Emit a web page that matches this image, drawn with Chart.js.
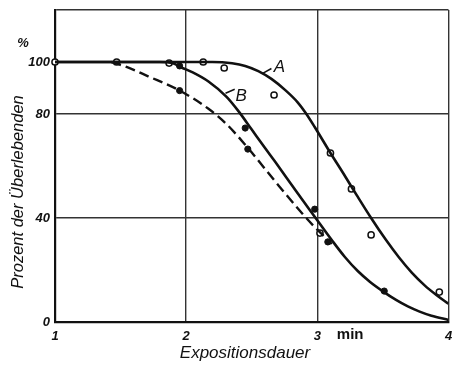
<!DOCTYPE html>
<html>
<head>
<meta charset="utf-8">
<script src="https://cdn.jsdelivr.net/npm/chart.js@4"></script>
<style>
  html, body { margin: 0; padding: 0; background: #fff; }
  #wrap { width: 454px; height: 365px; }
</style>
</head>
<body>
<div id="wrap"><canvas id="survivalChart"></canvas></div>
<script>
// curve A (solid)
const curveAX = [1.0, 2.2, 2.35, 2.45, 2.55, 2.65, 2.76, 2.85, 2.91, 2.98, 3.1, 3.2, 3.3, 3.41, 3.52, 3.62, 3.72, 3.82, 3.91, 4.0];
const curveAY = [100, 100, 99.5, 98.5, 96.5, 93.5, 89, 84.5, 80.5, 75, 65, 57, 48.8, 40, 31.8, 25, 19, 14, 10.3, 7];
// curve B (solid)
const curveBX = [1.0, 1.8, 1.9, 1.96, 2.05, 2.17, 2.31, 2.4, 2.5, 2.6, 2.68, 2.85, 2.98, 3.11, 3.21, 3.31, 3.4, 3.5, 3.6, 3.69, 3.78, 3.87, 4.0];
const curveBY = [100, 100, 99.5, 98, 96, 92.5, 86.5, 81, 74, 67, 61.5, 49.5, 40.5, 31.5, 25, 19.5, 15.5, 11.8, 8.5, 6, 4, 2.4, 0.8];
// dashed curve
const dashX = [1.43, 1.55, 1.71, 1.95, 2.17, 2.31, 2.47, 2.68, 2.88, 2.98, 3.05, 3.11];
const dashY = [100, 98, 94.5, 89, 82, 76, 67, 54, 42, 36.5, 33, 30];

// measured points
const openX = [1.0, 1.47, 1.87, 2.13, 2.29, 2.67, 3.10, 3.26, 3.41, 3.93, 3.02];
const openY = [100, 100, 99.6, 100, 97.7, 87.3, 65, 51.2, 33.5, 11.5, 34.2];
const filledX = [1.95, 2.45, 2.47, 1.95, 2.98, 3.08, 3.51];
const filledY = [98.5, 74.6, 66.5, 89, 43.4, 30.8, 11.9];

const xTickLabels = ['1', '2', '3', '4'];
const yTickLabels = { 0: '0', 40: '40', 80: '80', 100: '100' };
const xTitle = 'Expositionsdauer';
const yTitle = 'Prozent der Überlebenden';

const toPoints = (xs, ys) => xs.map((x, i) => ({ x, y: ys[i] }));
const INK = '#111';
const tickFont = { family: 'Liberation Sans', size: 13, style: 'italic', weight: 'bold' };

const lineStyle = {
    showLine: true,
    borderColor: INK,
    borderWidth: 2.6,
    pointRadius: 0,
    cubicInterpolationMode: 'monotone',
    fill: false
};

// extra text: titles, "%", "min", curve labels A / B
const annotations = {
    id: 'annotations',
    afterDraw(chart) {
        const { ctx, chartArea, scales: { x, y } } = chart;
        ctx.save();
        ctx.fillStyle = INK;
        ctx.strokeStyle = INK;
        ctx.textAlign = 'center';
        ctx.textBaseline = 'middle';

        ctx.font = 'italic bold 13px "Liberation Sans"';
        ctx.fillText('%', chartArea.left - 32, y.getPixelForValue(107));
        ctx.font = 'bold 15px "Liberation Sans"';
        ctx.fillText('min', x.getPixelForValue(3.25), chartArea.bottom + 13);

        ctx.font = 'italic 17px "Liberation Sans"';
        ctx.fillText(xTitle, 245, 353);
        ctx.save();
        ctx.translate(18, 192);
        ctx.rotate(-Math.PI / 2);
        ctx.font = 'italic 16.5px "Liberation Sans"';
        ctx.fillText(yTitle, 0, 0);
        ctx.restore();

        ctx.font = 'italic 17px "Liberation Sans"';
        ctx.fillText('A', x.getPixelForValue(2.71), y.getPixelForValue(98));
        ctx.fillText('B', x.getPixelForValue(2.42), y.getPixelForValue(87));
        ctx.lineWidth = 1.5;
        ctx.beginPath();
        ctx.moveTo(x.getPixelForValue(2.58), y.getPixelForValue(95.5));
        ctx.lineTo(x.getPixelForValue(2.65), y.getPixelForValue(97.5));
        ctx.moveTo(x.getPixelForValue(2.30), y.getPixelForValue(88));
        ctx.lineTo(x.getPixelForValue(2.37), y.getPixelForValue(89.5));
        ctx.stroke();
        ctx.restore();
    }
};

const chart = new Chart(document.getElementById('survivalChart'), {
    type: 'scatter',
    data: {
        datasets: [
            { ...lineStyle, label: 'A', data: toPoints(curveAX, curveAY) },
            { ...lineStyle, label: 'B', data: toPoints(curveBX, curveBY) },
            { ...lineStyle, label: 'dashed', borderDash: [10, 5], borderWidth: 2.4, data: toPoints(dashX, dashY) },
            {
                label: 'open', data: toPoints(openX, openY), clip: false,
                pointRadius: 3.1, pointBackgroundColor: '#fff', pointBorderColor: INK, pointBorderWidth: 1.5
            },
            {
                label: 'filled', data: toPoints(filledX, filledY), clip: false,
                pointRadius: 3.1, pointBackgroundColor: INK, pointBorderColor: INK, pointBorderWidth: 1
            }
        ]
    },
    options: {
        responsive: true,
        maintainAspectRatio: false,
        animation: false,
        layout: { padding: { top: 10, right: 3, left: 0, bottom: 0 } },
        plugins: { legend: { display: false }, tooltip: { enabled: false } },
        scales: {
            x: {
                type: 'linear', min: 1, max: 4,
                afterFit: s => { s.height = 43; s.paddingLeft = 0; s.paddingRight = 0; },
                afterBuildTicks: s => { s.ticks = xTickLabels.map(v => ({ value: Number(v) })); },
                ticks: { color: INK, font: tickFont, padding: 7, maxRotation: 0, callback: v => String(v) },
                grid: {
                    drawTicks: false,
                    color: c => (c.tick.value > 1 ? '#333' : 'rgba(0,0,0,0)'),
                    lineWidth: 1.4
                },
                border: { color: INK, width: 2.2 }
            },
            y: {
                min: 0, max: 120,
                afterFit: s => { s.width = 55; s.paddingTop = 0; s.paddingBottom = 0; },
                ticks: {
                    stepSize: 20, color: INK, font: tickFont, padding: 5,
                    callback: v => yTickLabels[v] ?? ''
                },
                grid: {
                    drawTicks: false,
                    color: c => ([40, 80, 120].includes(c.tick.value) ? '#333' : 'rgba(0,0,0,0)'),
                    lineWidth: 1.4
                },
                border: { color: INK, width: 2.2 }
            }
        }
    },
    plugins: [annotations]
});
</script>
</body>
</html>
